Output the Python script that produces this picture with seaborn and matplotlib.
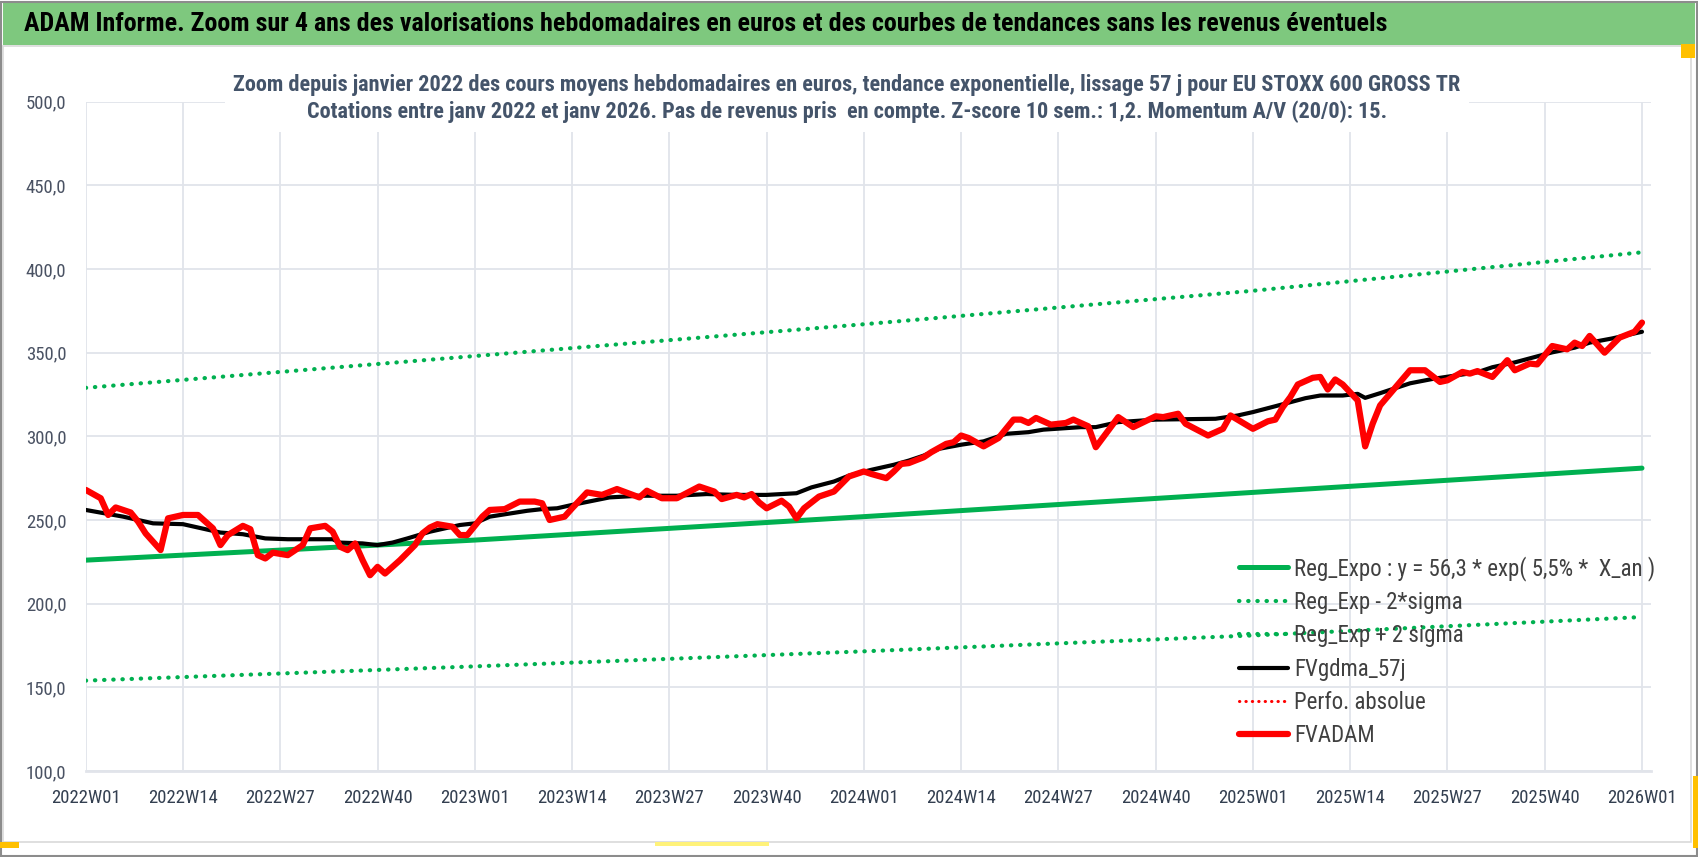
import pandas as pd
import matplotlib.pyplot as plt
import seaborn as sns
from matplotlib.patches import Rectangle

# =====================
# Data
# =====================
week_labels = ["2022W01", "2022W14", "2022W27", "2022W40", "2023W01", "2023W14",
               "2023W27", "2023W40", "2024W01", "2024W14", "2024W27", "2024W40",
               "2025W01", "2025W14", "2025W27", "2025W40", "2026W01"]

# FVADAM weekly average price (red)
adam_weeks = [0, 2, 3, 4, 6, 7, 8, 10, 11, 13, 15, 17, 18, 19, 21, 22, 23, 24, 25, 27,
              29, 30, 32, 33, 34, 35, 36, 37, 38, 39, 40, 42, 44, 45, 46, 47, 49, 50, 51, 53,
              54, 56, 58, 60, 61, 62, 64, 65, 67, 69, 71, 74, 75, 77, 79, 82, 84, 85, 87, 88,
              89, 90, 91, 93, 94, 95, 96, 98, 100, 102, 104, 105, 107, 108, 109, 110, 112, 113, 115, 116,
              117, 118, 120, 122, 124, 125, 126, 127, 129, 131, 132, 134, 135, 137, 138, 140, 143, 144, 146, 147,
              150, 152, 153, 156, 158, 159, 160, 161, 162, 164, 165, 166, 167, 168, 170, 171, 172, 173, 175, 177,
              179, 181, 182, 184, 185, 186, 188, 190, 191, 193, 194, 196, 198, 199, 200, 201, 203, 205, 207, 208]
adam_values = [268, 263, 253, 257.5, 254.5, 249, 242, 232, 251, 253, 253, 245, 235, 241, 246.5, 244.5, 229, 227, 230.5, 229,
               235, 245, 246.5, 243, 234, 232, 236, 226, 217, 222, 218, 226, 235, 242, 245.5, 247.5, 246, 241, 241, 252,
               256, 256.5, 261, 261, 260, 250, 252, 257, 266.5, 265, 268.5, 263.5, 267.5, 263, 263, 270, 267, 262.5, 265, 263.5,
               265.5, 260.5, 257, 261.5, 258, 251, 257, 264, 267, 276, 279, 277.5, 275, 279, 283.5, 284, 287.5, 290.5, 295.5, 296.5,
               300.5, 299, 294, 299, 310, 310, 308, 311, 307, 308, 310, 306, 293.5, 305.5, 311.5, 305.5, 312, 311.5, 313.5, 307.5,
               300.5, 304.5, 312.5, 304.5, 309, 310, 317.5, 323.5, 331, 335, 335.5, 328, 334, 331, 321.5, 294, 307.5, 318.5, 329, 339.5,
               339.5, 332.5, 333.5, 338.5, 337.5, 339, 335.5, 345.5, 339.5, 343.5, 343, 354, 352, 356, 354, 360, 350, 359, 362.5, 368]

# FVgdma_57j smoothed curve (black)
gdma_weeks = [0, 5, 9, 13, 18, 21, 24, 27, 30, 33, 34, 37, 39, 41, 43, 46, 48, 50, 52, 54,
              59, 61, 63, 65, 70, 74, 79, 83, 87, 91, 95, 97, 100, 102, 105, 108, 110, 112, 114, 117,
              120, 123, 126, 128, 133, 135, 138, 143, 151, 154, 156, 159, 163, 165, 168, 170, 171, 173, 177, 180,
              183, 186, 188, 191, 196, 199, 201, 204, 208]
gdma_values = [256, 252, 248, 247.5, 242.5, 241.5, 239, 238.5, 238.5, 238.5, 236.5, 236, 235, 236.5, 239, 243, 245, 247, 248, 252,
               255.5, 256.5, 257, 259, 263.5, 264.5, 264.5, 265.5, 265, 265, 266, 269.5, 273, 276.5, 280, 283, 285.5, 288.5, 292.5, 295,
               297, 301.5, 302.5, 304, 305.5, 305.5, 308.5, 310, 310.5, 312.5, 314.5, 318, 322.8, 324.4, 324.4, 325.4, 323, 325.8, 331.7, 334.3,
               336.3, 338.3, 341.3, 344.2, 350.2, 353, 356, 358.5, 362.5]

# exponential trend and +/- 2 sigma bands (green)
trend_weeks = [0, 52, 104, 156, 208]
trend_mid = [226, 238, 252, 266.5, 281]
trend_low = [154, 162.5, 171.5, 181, 192]
trend_high = [329, 348, 367, 387, 410]

banner = ("ADAM Informe. Zoom sur 4 ans des valorisations hebdomadaires en euros "
          "et des courbes de tendances sans les revenus éventuels")
title = ("Zoom depuis janvier 2022 des cours moyens hebdomadaires en euros, tendance exponentielle, "
         "lissage 57 j pour EU STOXX 600 GROSS TR\n"
         "Cotations entre janv 2022 et janv 2026. Pas de revenus pris  en compte. "
         "Z-score 10 sem.: 1,2. Momentum A/V (20/0): 15.")

adam = pd.DataFrame({"week": adam_weeks, "value": adam_values})
gdma = pd.DataFrame({"week": gdma_weeks, "value": gdma_values})
trend = pd.DataFrame({"week": trend_weeks, "mid": trend_mid, "low": trend_low, "high": trend_high})

# =====================
# Style
# =====================
sns.set_theme(style="white")
plt.rcParams["font.family"] = ["Roboto Condensed", "DejaVu Sans Condensed", "Lato", "DejaVu Sans"]

GREEN = "#00B050"
GRID = "#E1E4EA"

fig = plt.figure(figsize=(16.98, 8.57), dpi=100)
ax = fig.add_axes([0.0505, 0.1004, 0.9218, 0.7809])

sns.lineplot(data=trend, x="week", y="mid", ax=ax, color=GREEN, lw=3.6,
             label="Reg_Expo : y = 56,3 * exp( 5,5% *  X_an )")
sns.lineplot(data=trend, x="week", y="low", ax=ax, color=GREEN, lw=3.0,
             linestyle=(0, (0.1, 2.1)), dash_capstyle="round", label="Reg_Exp - 2*sigma")
sns.lineplot(data=trend, x="week", y="high", ax=ax, color=GREEN, lw=3.0,
             linestyle=(0, (0.1, 2.1)), dash_capstyle="round", label="Reg_Exp + 2 sigma")
sns.lineplot(data=gdma, x="week", y="value", ax=ax, color="black", lw=3.0, label="FVgdma_57j")
ax.plot([], [], color="red", lw=2.2, linestyle=(0, (0.1, 2.0)), dash_capstyle="round",
        label="Perfo. absolue")
sns.lineplot(data=adam, x="week", y="value", ax=ax, color="red", lw=4.5, label="FVADAM")

# axes
ax.set_xlim(0, 209.2)
ax.set_ylim(100, 500)
ax.set_xticks(range(0, 209, 13))
ax.set_xticklabels(week_labels)
ax.set_yticks(range(100, 501, 50))
ax.set_yticklabels([f"{v},0" for v in range(100, 501, 50)])
ax.set_xlabel("")
ax.set_ylabel("")
ax.grid(True, color=GRID, lw=1.3)
for s in ["top", "right", "left"]:
    ax.spines[s].set_visible(False)
ax.spines["bottom"].set_color(GRID)
ax.spines["bottom"].set_linewidth(2)
ax.tick_params(axis="x", length=6, width=1.2, color=GRID, labelsize=13.5,
               labelcolor="#333F50", pad=7)
ax.tick_params(axis="y", length=0, labelsize=13.5, labelcolor="#4A5263", pad=14)

leg = ax.legend(loc="upper left", bbox_to_anchor=(0.731, 0.335), frameon=False,
                fontsize=16.5, handlelength=2.14, handletextpad=0.26, labelspacing=0.45,
                borderaxespad=0)
for t in leg.get_texts():
    t.set_color("#404040")

# chart title with white box over the grid
fig.text(0.4988, 0.885, title, ha="center", va="center", fontsize=16, fontweight="bold",
         color="#44546A", linespacing=1.27,
         bbox=dict(facecolor="white", edgecolor="none", pad=6))

# banner and frame
fig.patches.append(Rectangle((0.002, 0.947), 0.996, 0.050, transform=fig.transFigure,
                             facecolor="#7EC87E", edgecolor="none", zorder=0))
fig.text(0.014, 0.972, banner, ha="left", va="center", fontsize=18.7, fontweight="bold",
         color="black")
fig.patches.append(Rectangle((0.002, 0.017), 0.994, 0.929, transform=fig.transFigure,
                             facecolor="none", edgecolor="#D9D9D9", lw=1.2, zorder=0))
fig.patches.append(Rectangle((0.0006, 0.001), 0.9988, 0.997, transform=fig.transFigure,
                             facecolor="none", edgecolor="#8C8C8C", lw=1.5, zorder=5))
# selection handles
fig.patches.append(Rectangle((0.0, 0.010), 0.011, 0.007, transform=fig.transFigure,
                             facecolor="#FFC000", edgecolor="none", zorder=6))
fig.patches.append(Rectangle((0.386, 0.013), 0.067, 0.004, transform=fig.transFigure,
                             facecolor="#FFF27A", edgecolor="none", zorder=6))
fig.patches.append(Rectangle((0.990, 0.932), 0.008, 0.017, transform=fig.transFigure,
                             facecolor="#FFC000", edgecolor="none", zorder=6))
fig.patches.append(Rectangle((0.997, 0.010), 0.003, 0.085, transform=fig.transFigure,
                             facecolor="#FFC000", edgecolor="none", zorder=6))

fig.savefig("out.png", dpi=100)
